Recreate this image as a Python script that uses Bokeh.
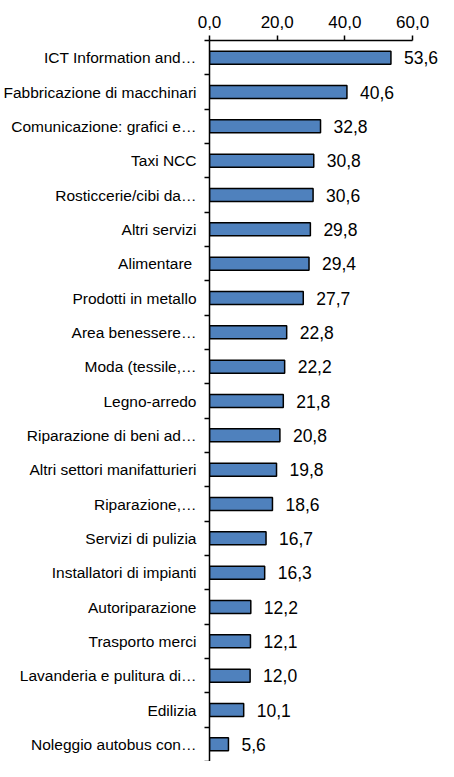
from bokeh.plotting import figure
from bokeh.models import Range1d, FixedTicker, ColumnDataSource
from bokeh.core.properties import value
from bokeh.embed import file_html
from bokeh.resources import INLINE

categories = [
    "ICT Information and…", "Fabbricazione di macchinari", "Comunicazione: grafici e…",
    "Taxi NCC", "Rosticcerie/cibi da…", "Altri servizi", "Alimentare ",
    "Prodotti in metallo", "Area benessere…", "Moda (tessile,…", "Legno-arredo",
    "Riparazione di beni ad…", "Altri settori manifatturieri", "Riparazione,…",
    "Servizi di pulizia", "Installatori di impianti", "Autoriparazione",
    "Trasporto merci", "Lavanderia e pulitura di…", "Edilizia", "Noleggio autobus con…",
]
values = [53.6, 40.6, 32.8, 30.8, 30.6, 29.8, 29.4, 27.7, 22.8, 22.2, 21.8,
          20.8, 19.8, 18.6, 16.7, 16.3, 12.2, 12.1, 12.0, 10.1, 5.6]
x_ticks = [0, 20, 40, 60]

FONT = "Liberation Sans"
n = len(categories)
ys = [i + 0.5 for i in range(n)]
labels = [f"{v:.1f}".replace(".", ",") for v in values]
src = ColumnDataSource(dict(y=ys, v=values, lab=labels))

p = figure(width=438, height=761, output_backend="svg", toolbar_location=None,
           x_range=Range1d(0, 67.65), y_range=Range1d(n, 0),
           x_axis_location="above", min_border_left=208, min_border_top=40,
           min_border_right=0, min_border_bottom=0)
p.outline_line_color = None
p.grid.visible = False

p.hbar(y="y", left=0, right="v", height=0.38, source=src,
       fill_color="#4F81BD", line_color="black", line_width=1.5)
p.text(x="v", y="y", text="lab", source=src, x_offset=13,
       text_font=value(FONT), text_font_size="17.5px", text_baseline="middle",
       text_color="black")

xa = p.xaxis[0]
xa.ticker = FixedTicker(ticks=x_ticks)
xa.bounds = (0, 60)
xa.major_label_overrides = {t: f"{t:.1f}".replace(".", ",") for t in x_ticks}
xa.major_tick_in = 0
xa.major_tick_out = 5
xa.minor_tick_line_color = None
xa.major_label_text_font = FONT
xa.major_label_text_font_size = "17px"
xa.major_label_text_color = "black"
xa.major_label_standoff = 8
xa.axis_line_color = "black"
xa.axis_line_width = 1.5
xa.major_tick_line_width = 1.5

ya = p.yaxis[0]
ya.ticker = FixedTicker(ticks=ys, minor_ticks=list(range(n + 1)))
ya.major_label_overrides = {y: c for y, c in zip(ys, categories)}
ya.major_tick_line_color = None
ya.major_tick_in = 0
ya.major_tick_out = 0
ya.minor_tick_in = 0
ya.minor_tick_out = 5
ya.minor_tick_line_color = "black"
ya.minor_tick_line_width = 1.5
ya.major_label_text_font = FONT
ya.major_label_text_font_size = "15.5px"
ya.major_label_text_color = "black"
ya.major_label_standoff = 8
ya.axis_line_color = "black"
ya.axis_line_width = 1.5

open("out.html", "w").write(file_html(p, INLINE))
